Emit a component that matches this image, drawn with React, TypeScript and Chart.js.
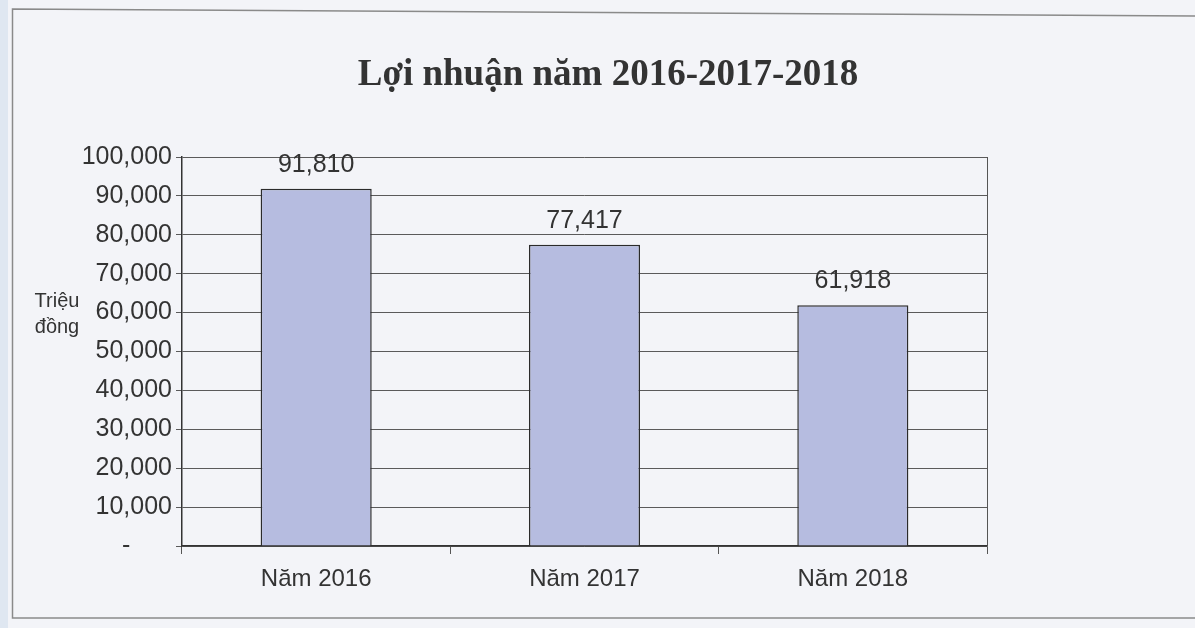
import React, { useEffect, useRef } from "react";
import { Chart, registerables } from "chart.js";

Chart.register(...registerables);

const categories = ["Năm 2016", "Năm 2017", "Năm 2018"];
const profitValues = [91810, 77417, 61918];
const yTicks = [0, 10000, 20000, 30000, 40000, 50000, 60000, 70000, 80000, 90000, 100000];
const titleText = "Lợi nhuận năm 2016-2017-2018";
const yTitleLines = ["Triệu", "đồng"];

const SANS = "'Liberation Sans', Arial, sans-serif";
const SERIF = "'Liberation Serif', 'Times New Roman', serif";

const fmt = (v: number) =>
  v === 0 ? "-      " : v.toLocaleString("en-US");

const decorPlugin = {
  id: "decor",
  beforeDraw(chart: any) {
    const { ctx, width, height } = chart;
    ctx.save();
    ctx.fillStyle = "#f3f4f8";
    ctx.fillRect(0, 0, width, height);
    ctx.fillStyle = "#dfe7f1";
    ctx.fillRect(0, 0, 8, height);
    ctx.strokeStyle = "#8a8a8a";
    ctx.lineWidth = 1.5;
    ctx.beginPath();
    ctx.moveTo(1200, 16);
    ctx.lineTo(12.5, 9);
    ctx.lineTo(12.5, 618);
    ctx.lineTo(1200, 618);
    ctx.stroke();
    // chart title
    ctx.fillStyle = "#333";
    ctx.font = `bold 37px ${SERIF}`;
    ctx.textAlign = "center";
    ctx.textBaseline = "middle";
    ctx.fillText(titleText, 608, 75);
    ctx.restore();
  },
  afterDatasetsDraw(chart: any) {
    const { ctx, chartArea } = chart;
    ctx.save();
    // right border of plot area
    ctx.strokeStyle = "#555";
    ctx.lineWidth = 1;
    ctx.beginPath();
    ctx.moveTo(chartArea.right + 0.5, chartArea.top);
    ctx.lineTo(chartArea.right + 0.5, chartArea.bottom);
    ctx.stroke();
    // value labels
    ctx.fillStyle = "#333";
    ctx.font = `25px ${SANS}`;
    ctx.textAlign = "center";
    ctx.textBaseline = "alphabetic";
    const meta = chart.getDatasetMeta(0);
    meta.data.forEach((bar: any, i: number) => {
      ctx.fillText(profitValues[i].toLocaleString("en-US"), bar.x, bar.y - 17);
    });
    // y axis title
    ctx.font = `20px ${SANS}`;
    ctx.fillStyle = "#333";
    ctx.textAlign = "center";
    ctx.textBaseline = "middle";
    const cy = (chartArea.top + chartArea.bottom) / 2;
    ctx.fillText(yTitleLines[0], 57, cy - 50);
    ctx.fillText(yTitleLines[1], 57, cy - 24);
    ctx.restore();
  },
};

export default function App() {
  const ref = useRef<HTMLCanvasElement | null>(null);
  useEffect(() => {
    document.body.style.margin = "0";
    const canvas = ref.current!;
    const chart = new Chart(canvas, {
      type: "bar",
      data: {
        labels: categories,
        datasets: [
          {
            data: profitValues,
            backgroundColor: "#b6bce0",
            borderColor: "#2b2b2b",
            borderWidth: 1.5,
            categoryPercentage: 1,
            barPercentage: 0.414,
          },
        ],
      },
      options: {
        responsive: false,
        animation: false,
        layout: { padding: { top: 157, right: 208, bottom: 0, left: 0 } },
        plugins: {
          legend: { display: false },
          tooltip: { enabled: false },
          title: { display: false },
        },
        scales: {
          x: {
            afterFit(scale: any) {
              scale.height = 82;
            },
            grid: {
              offset: true,
              drawOnChartArea: false,
              drawTicks: true,
              tickLength: 8,
              color: "#555",
            },
            border: { color: "#333", width: 1.5 },
            ticks: {
              color: "#333",
              font: { family: SANS, size: 24 },
              padding: 11,
            },
          },
          y: {
            min: 0,
            max: 100000,
            afterFit(scale: any) {
              scale.width = 182;
            },
            afterBuildTicks(scale: any) {
              scale.ticks = yTicks.map((v) => ({ value: v }));
            },
            grid: {
              color: "#5a5a5a",
              lineWidth: 1,
              drawTicks: true,
              tickLength: 6,
            },
            border: { color: "#333", width: 1.5 },
            ticks: {
              color: "#333",
              font: { family: SANS, size: 25 },
              padding: 4,
              callback: (v: any) => fmt(Number(v)),
            },
          },
        },
      },
      plugins: [decorPlugin],
    } as any);
    return () => chart.destroy();
  }, []);
  return <canvas ref={ref} width={1195} height={628} style={{ display: "block" }} />;
}
